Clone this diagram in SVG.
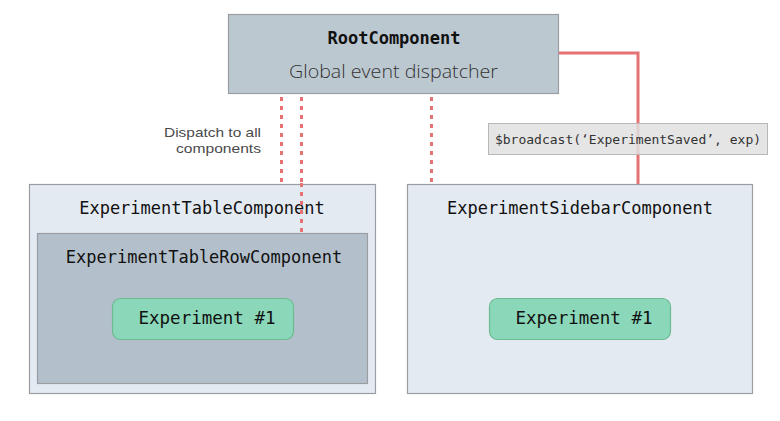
<svg xmlns="http://www.w3.org/2000/svg" width="780" height="421" viewBox="0 0 780 421">
<style>
.box{stroke:#9a9ea3;stroke-width:1.2}
.mono{font-family:"DejaVu Sans Mono","Liberation Mono",monospace;fill:#111;text-anchor:middle}
.dash{stroke:#e57373;stroke-width:3;stroke-dasharray:4 5;fill:none}
.pill{fill:#8ad8b9;stroke:#6dbb92;stroke-width:1.2}
.sans{font-family:"Open Sans","Liberation Sans",sans-serif;font-weight:300;fill:#333}
.note{font-family:"Liberation Sans",Arial,sans-serif;fill:#4a4a4a;text-anchor:end}
</style>
<rect width="780" height="421" fill="#fff"/>
<g id="connectors">
<line class="dash" x1="281.5" y1="97" x2="281.5" y2="183"/>
<line class="dash" x1="301.5" y1="97" x2="301.5" y2="233"/>
<line class="dash" x1="431.5" y1="97" x2="431.5" y2="183"/>
<polyline points="558,53 638,53 638,184" fill="none" stroke="#e57373" stroke-width="3"/>
</g>
<g id="root">
<rect class="box" x="228.5" y="14.5" width="330" height="79" fill="#bcc8d0"/>
<text class="mono" x="394" y="44" font-size="17" font-weight="bold">RootComponent</text>
<text class="sans" x="393.5" y="78" font-size="19" text-anchor="middle" textLength="209" lengthAdjust="spacingAndGlyphs">Global event dispatcher</text>
</g>
<g id="dispatch-label">
<text class="note" x="261" y="137" font-size="13.5" textLength="97" lengthAdjust="spacingAndGlyphs">Dispatch to all</text>
<text class="note" x="261" y="153" font-size="13.5" textLength="85" lengthAdjust="spacingAndGlyphs">components</text>
</g>
<g id="table">
<rect class="box" x="29.5" y="184.5" width="346" height="209" fill="#e4eaf2"/>
<text class="mono" x="202" y="214" font-size="17">ExperimentTableComponent</text>
</g>
<g id="connector-over">
<line class="dash" x1="301.5" y1="183" x2="301.5" y2="233"/>
</g>
<g id="tablerow">
<rect class="box" x="37.5" y="233.5" width="330" height="150" fill="#b3c0cb"/>
<text class="mono" x="204" y="263" font-size="17">ExperimentTableRowComponent</text>
<rect class="pill" x="112.5" y="298.5" width="181" height="41" rx="8"/>
<text class="mono" x="207" y="324" font-size="17.5">Experiment #1</text>
</g>
<g id="sidebar">
<rect class="box" x="407.5" y="184.5" width="345" height="209" fill="#e4eaf2"/>
<text class="mono" x="580" y="214" font-size="17">ExperimentSidebarComponent</text>
<rect class="pill" x="489.5" y="298.5" width="181" height="41" rx="8"/>
<text class="mono" x="584" y="324" font-size="17.5">Experiment #1</text>
</g>
<g id="broadcast-label">
<rect x="488.5" y="123.5" width="279" height="31" fill="#e0e0e0" fill-opacity="0.85" stroke="#b8b8b8" stroke-width="1"/>
<text class="mono" x="628" y="144" font-size="13" style="fill:#333">$broadcast(‘ExperimentSaved’, exp)</text>
</g>
</svg>
